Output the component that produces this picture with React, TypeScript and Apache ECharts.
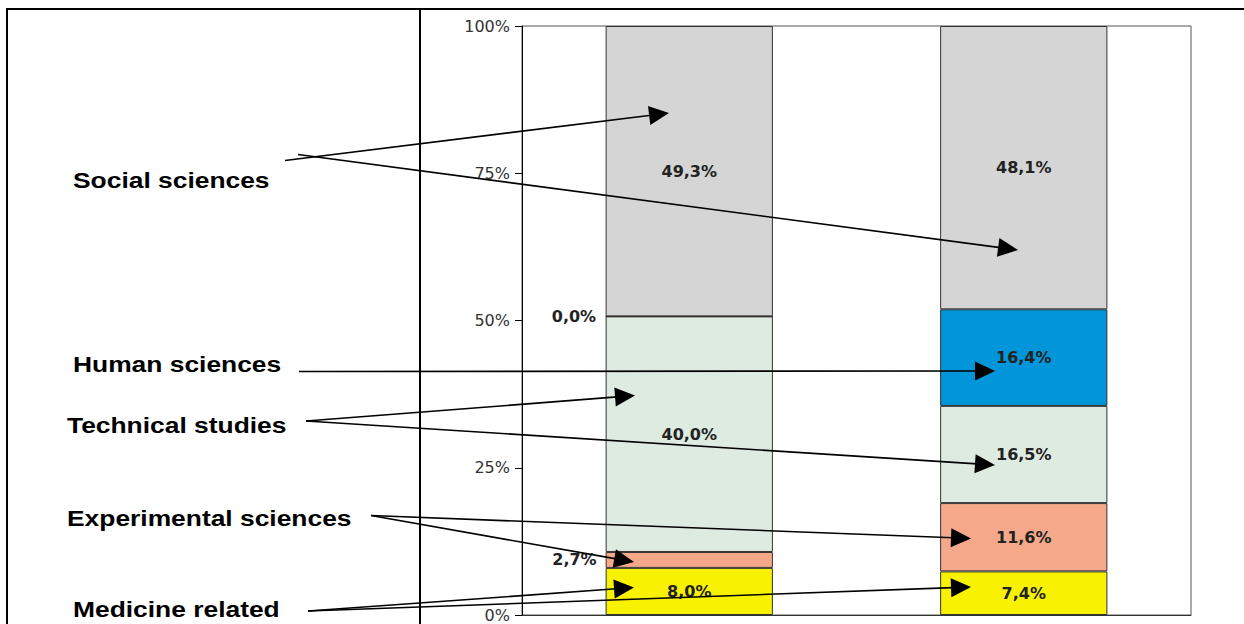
import React, { useEffect, useRef } from "react";
import * as echarts from "echarts";

const categories = ["Group 1", "Group 2"];
const seriesNames = [
  "Medicine related",
  "Experimental sciences",
  "Technical studies",
  "Human sciences",
  "Social sciences",
];
const medicine = [8.0, 7.4];
const experimental = [2.7, 11.6];
const technical = [40.0, 16.5];
const human = [0.0, 16.4];
const social = [49.3, 48.1];
const colors = ["#F8F200", "#F5A98A", "#DEEBE1", "#0096D9", "#D5D5D5"];
const yTicks = [0, 25, 50, 75, 100];

const fmt = (v: number) => v.toFixed(1).replace(".", ",") + "%";

function arrow(x1: number, y1: number, x2: number, y2: number) {
  const len = 20;
  const hw = 9.5;
  const dx = x2 - x1;
  const dy = y2 - y1;
  const d = Math.sqrt(dx * dx + dy * dy);
  const ux = dx / d;
  const uy = dy / d;
  const bx = x2 - ux * len;
  const by = y2 - uy * len;
  const px = -uy;
  const py = ux;
  return [
    {
      type: "line",
      z: 100,
      shape: { x1, y1, x2: bx + ux * 2, y2: by + uy * 2 },
      style: { stroke: "#000", lineWidth: 1.6 },
    },
    {
      type: "polygon",
      z: 100,
      shape: {
        points: [
          [x2, y2],
          [bx + px * hw, by + py * hw],
          [bx - px * hw, by - py * hw],
        ],
      },
      style: { fill: "#000" },
    },
  ];
}

function label(text: string, x: number, y: number) {
  return {
    type: "text",
    z: 100,
    x,
    y,
    scaleX: 1.2,
    style: {
      text,
      fill: "#000",
      font: "bold 22px 'Liberation Sans', Arial, sans-serif",
      textAlign: "left",
      textVerticalAlign: "middle",
    },
  };
}

export default function App() {
  const ref = useRef<HTMLDivElement>(null);
  useEffect(() => {
    if (!ref.current) return;
    const chart = echarts.init(ref.current, null, { renderer: "svg" });
    const values = [medicine, experimental, technical, human, social];
    const series = values.map((arr, i) => ({
      name: seriesNames[i],
      type: "bar",
      stack: "total",
      barCategoryGap: "50%",
      itemStyle: { color: colors[i], borderColor: "#333", borderWidth: 1 },
      label: {
        show: true,
        position: "inside",
        formatter: (p: any) => fmt(p.value),
        fontFamily: "'DejaVu Sans', sans-serif",
        fontWeight: "bold",
        fontSize: 16,
        color: "#222",
      },
      data: arr.map((v) =>
        v < 3
          ? { value: v, label: { position: "left", distance: 9 } }
          : { value: v }
      ),
    }));

    const graphic: any[] = [
      { type: "line", z: 100, shape: { x1: 6, y1: 9, x2: 1244, y2: 9 }, style: { stroke: "#000", lineWidth: 2 } },
      { type: "line", z: 100, shape: { x1: 7, y1: 8, x2: 7, y2: 624 }, style: { stroke: "#000", lineWidth: 2 } },
      { type: "line", z: 100, shape: { x1: 420, y1: 8, x2: 420, y2: 624 }, style: { stroke: "#000", lineWidth: 2 } },
      label("Social sciences", 73, 180),
      label("Human sciences", 73, 364),
      label("Technical studies", 67, 425),
      label("Experimental sciences", 67, 518),
      label("Medicine related", 73, 609),
      ...arrow(285, 160.5, 669, 113),
      ...arrow(298, 154.5, 1018, 250),
      ...arrow(299, 371.5, 995, 371),
      ...arrow(306, 421, 635, 395.5),
      ...arrow(306, 421, 995, 465),
      ...arrow(371, 515.5, 634, 562),
      ...arrow(371, 515.5, 971, 538.5),
      ...arrow(308, 611, 634, 587.5),
      ...arrow(308, 611, 971, 587),
    ];

    chart.setOption({
      animation: false,
      backgroundColor: "#fff",
      grid: {
        left: 522,
        right: 53,
        top: 26,
        bottom: 9,
        show: true,
        borderColor: "#555",
        borderWidth: 1,
        containLabel: false,
      },
      xAxis: {
        type: "category",
        data: categories,
        axisLabel: { show: false },
        axisTick: { show: false },
        axisLine: { show: true, lineStyle: { color: "#333", width: 1 } },
      },
      yAxis: {
        type: "value",
        min: yTicks[0],
        max: yTicks[yTicks.length - 1],
        interval: 25,
        axisLine: { show: true, lineStyle: { color: "#000", width: 1 } },
        axisTick: { show: true, length: 7, lineStyle: { color: "#000" } },
        splitLine: { show: false },
        axisLabel: {
          margin: 12,
          formatter: "{value}%",
          fontFamily: "'DejaVu Sans', sans-serif",
          fontSize: 16,
          color: "#333",
        },
      },
      series,
      graphic,
    });
    return () => chart.dispose();
  }, []);
  return (
    <div
      ref={ref}
      style={{ position: "fixed", left: 0, top: 0, width: 1244, height: 624, background: "#fff" }}
    />
  );
}
